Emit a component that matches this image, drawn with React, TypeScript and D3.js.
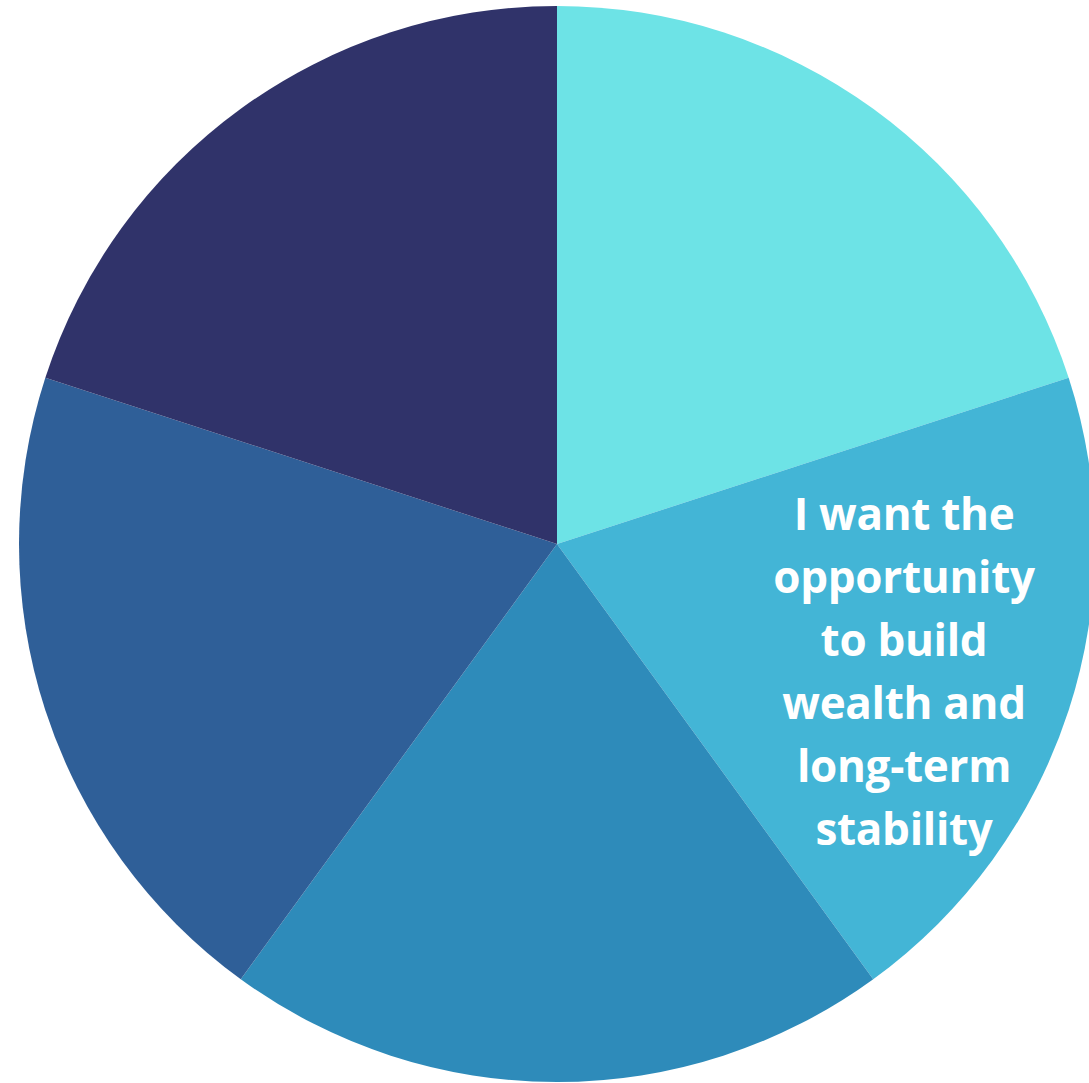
import React from "react";
import * as d3 from "d3";

const categories = ["Slice 1", "I want the opportunity to build wealth and long-term stability", "Slice 3", "Slice 4", "Slice 5"];
const values = [1, 1, 1, 1, 1];
const colors = ["#6DE3E6", "#43B5D6", "#2E8BBA", "#2F5F98", "#30336A"];
const labelLines = ["I want the", "opportunity", "to build", "wealth and", "long-term", "stability"];

export default function App() {
  const W = 1089, H = 1083;
  const cx = 557, cy = 544, r = 538;
  const pie = d3.pie<number>().sort(null).value((d) => d)(values);
  const arc = d3.arc<d3.PieArcDatum<number>>().innerRadius(0).outerRadius(r);
  return (
    <svg width={W} height={H} style={{ position: "absolute", left: 0, top: 0 }}>
      <rect width={W} height={H} fill="#ffffff" />
      <g transform={`translate(${cx},${cy})`}>
        {pie.map((p, i) => (
          <path key={categories[i]} d={arc(p) || ""} fill={colors[i]} />
        ))}
      </g>
      <g fontFamily="'Open Sans', sans-serif" fontWeight={700} fontSize={44} letterSpacing={-0.3} fill="#ffffff" textAnchor="middle">
        {labelLines.map((l, i) => (
          <text key={l} x={904} y={530 + i * 63}>{l}</text>
        ))}
      </g>
    </svg>
  );
}
